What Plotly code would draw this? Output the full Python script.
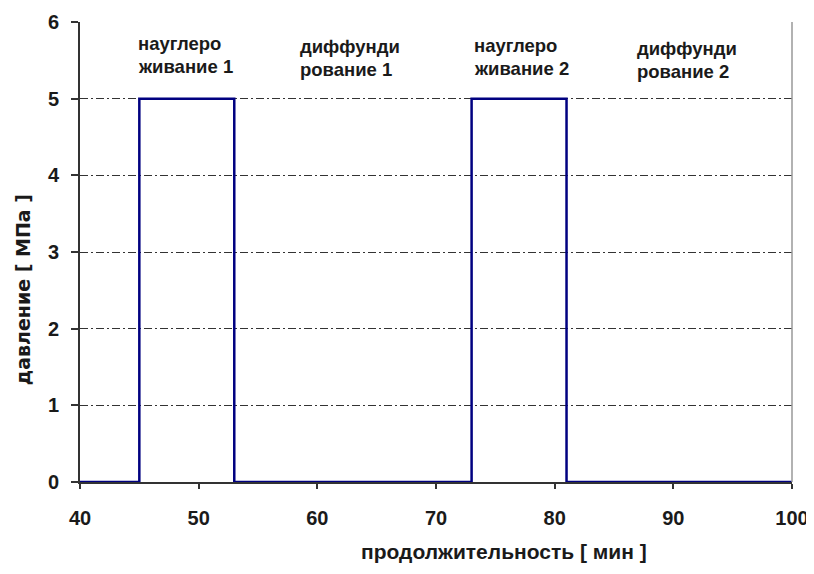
import plotly.graph_objects as go

time_min = [40, 45, 53, 73, 81, 100]
pressure_mpa = [0, 5, 0, 5, 0, 0]

stage_line1 = ["науглеро", "диффунди", "науглеро", "диффунди"]
stage_line2 = ["живание 1", "рование 1", "живание 2", "рование 2"]
stage_x = [44.75, 58.4, 73.0, 86.8]
stage_y1 = [5.72, 5.68, 5.69, 5.65]
stage_y2 = [5.42, 5.38, 5.39, 5.35]

x_title = "продолжительность [ мин ]"
y_title = "давление [ МПа ]"

font_family = "Liberation Sans, Arial, sans-serif"
txt = "#1a1a1a"

fig = go.Figure()
fig.add_trace(go.Scatter(
    x=time_min, y=pressure_mpa, mode="lines", line_shape="hv",
    line=dict(color="#000080", width=2.5), showlegend=False, hoverinfo="skip"
))

for l1, l2, xx, y1, y2 in zip(stage_line1, stage_line2, stage_x, stage_y1, stage_y2):
    for t, yy in ((l1, y1), (l2, y2)):
        fig.add_annotation(
            x=xx, y=yy, text="<b>" + t + "</b>", showarrow=False,
            xanchor="left", yanchor="middle", align="left",
            font=dict(family=font_family, size=18.5, color=txt)
        )

# axis titles (offset as in the reference)
fig.add_annotation(xref="paper", yref="paper", x=0.596, y=0, yshift=-69,
                   text="<b>" + x_title + "</b>", showarrow=False,
                   xanchor="center", yanchor="middle",
                   font=dict(family=font_family, size=21, color=txt))
fig.add_annotation(xref="paper", yref="paper", x=0, y=0.417, xshift=-57,
                   text="<b>" + y_title + "</b>", showarrow=False, textangle=-90,
                   xanchor="center", yanchor="middle",
                   font=dict(family="DejaVu Sans, sans-serif", size=19, color=txt))

fig.add_shape(type="line", xref="paper", yref="paper", x0=1, x1=1, y0=0, y1=1,
              line=dict(color="#999999", width=1.5))

fig.update_layout(
    width=814, height=574,
    margin=dict(l=72, r=30, t=14, b=100),
    paper_bgcolor="white", plot_bgcolor="white",
    font=dict(family=font_family, size=14, color=txt),
    xaxis=dict(
        range=[40, 100], tickvals=[40, 50, 60, 70, 80, 90, 100],
        ticks="outside", ticklen=5, tickcolor="#333333", tickwidth=1.5,
        showline=True, linecolor="#333333", linewidth=2,
        showgrid=False, zeroline=False, automargin=False,
        tickfont=dict(family=font_family, size=20, color=txt, weight="bold"),
        ticklabelstandoff=12,
        fixedrange=True,
    ),
    yaxis=dict(
        range=[0, 6], tickvals=[0, 1, 2, 3, 4, 5, 6],
        ticks="outside", ticklen=7, tickcolor="#333333", tickwidth=1.5,
        showline=True, linecolor="#333333", linewidth=2,
        showgrid=True, gridcolor="#333333", gridwidth=1.2,
        griddash="8px,3px,2px,3px",
        zeroline=False, automargin=False,
        tickfont=dict(family=font_family, size=20, color=txt, weight="bold"),
        ticklabelstandoff=8,
        fixedrange=True,
    ),
)

fig.write_html("out.html")
